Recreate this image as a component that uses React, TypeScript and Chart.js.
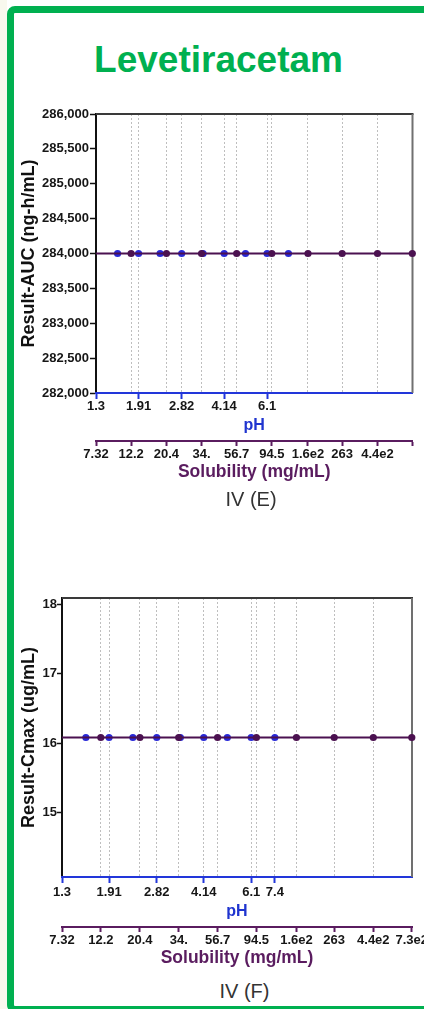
import React, { useEffect, useRef } from "react";
import { Chart, registerables } from "chart.js";

Chart.register(...registerables);

const FONT = "'Liberation Sans', Arial, Helvetica, sans-serif";

// ---------------- data ----------------
const drugName = "Levetiracetam";

const phPoints = [1.58, 1.91, 2.32, 2.82, 3.42, 4.14, 5.02, 6.1, 7.4];
const solubilityPoints = [7.32, 12.2, 20.4, 34, 56.7, 94.5, 160, 263, 440, 730];

const aucAtPh = [284000, 284000, 284000, 284000, 284000, 284000, 284000, 284000, 284000];
const aucAtSolubility = [284000, 284000, 284000, 284000, 284000, 284000, 284000, 284000, 284000, 284000];
const cmaxAtPh = [16.08, 16.08, 16.08, 16.08, 16.08, 16.08, 16.08, 16.08, 16.08];
const cmaxAtSolubility = [16.08, 16.08, 16.08, 16.08, 16.08, 16.08, 16.08, 16.08, 16.08, 16.08];

const phTicksE = [1.3, 1.91, 2.82, 4.14, 6.1];
const phTickLabelsE = ["1.3", "1.91", "2.82", "4.14", "6.1"];
const phTicksF = [1.3, 1.91, 2.82, 4.14, 6.1, 7.4];
const phTickLabelsF = ["1.3", "1.91", "2.82", "4.14", "6.1", "7.4"];
const solTicks = [7.32, 12.2, 20.4, 34, 56.7, 94.5, 160, 263, 440, 730];
const solTickLabelsE = ["7.32", "12.2", "20.4", "34.", "56.7", "94.5", "1.6e2", "263", "4.4e2", ""];
const solTickLabelsF = ["7.32", "12.2", "20.4", "34.", "56.7", "94.5", "1.6e2", "263", "4.4e2", "7.3e2"];
const aucTicks = [282000, 282500, 283000, 283500, 284000, 284500, 285000, 285500, 286000];
const aucTickLabels = ["282,000", "282,500", "283,000", "283,500", "284,000", "284,500", "285,000", "285,500", "286,000"];
const cmaxTicks = [15, 16, 17, 18];
const cmaxTickLabels = ["15", "16", "17", "18"];

const phRange = [1.3, 22.7];
const solRange = [7.32, 732];
const aucRange = [282000, 286000];
const cmaxRange = [14.07, 18.09];

const phTitle = "pH";
const solTitle = "Solubility (mg/mL)";
const aucTitle = "Result-AUC (ng-h/mL)";
const cmaxTitle = "Result-Cmax (ug/mL)";
const captionE = "IV (E)";
const captionF = "IV (F)";

// ---------------- styles ----------------
const GREEN = "#00B050";
const BLUE_AXIS = "#2236DA";
const BLUE_POINT = "#2828D8";
const PURPLE = "#4B1150";
const PURPLE_AXIS = "#5A1C5F";
const GRID = "#BEBEBE";
const TEXT = "#161616";

const frameLines = {
  id: "frameLines",
  beforeDatasetsDraw(chart: any) {
    const { ctx, chartArea } = chart;
    const { left, right, top, bottom } = chartArea;
    ctx.save();
    ctx.lineWidth = 2;
    ctx.strokeStyle = "#3a3a3a";
    ctx.beginPath();
    ctx.moveTo(left, top);
    ctx.lineTo(right + 1, top);
    ctx.stroke();
    ctx.strokeStyle = "#707070";
    ctx.beginPath();
    ctx.moveTo(right, top);
    ctx.lineTo(right, bottom);
    ctx.stroke();
    ctx.restore();
  },
};

type Spec = {
  top: number;
  width: number;
  height: number;
  padTop: number;
  padRight: number;
  padBottom: number;
  yWidth: number;
  yTickLen: number;
  yTickPad: number;
  phHeight: number;
  phTickPad: number;
  solHeight: number;
  solTickPad: number;
  yTitle: string;
  yTicks: number[];
  yTickLabels: string[];
  yRange: number[];
  phTicks: number[];
  phTickLabels: string[];
  solTickLabels: string[];
  yAtPh: number[];
  yAtSol: number[];
};

function DualAxisChart({ spec }: { spec: Spec }) {
  const ref = useRef<HTMLCanvasElement | null>(null);
  useEffect(() => {
    if (!ref.current) return;
    const tickFont = { family: FONT, size: 13, weight: "bold" as const };
    const chart = new Chart(ref.current, {
      type: "line",
      data: {
        datasets: [
          {
            label: "Solubility",
            data: solubilityPoints.map((x, i) => ({ x, y: spec.yAtSol[i] })),
            xAxisID: "sol",
            yAxisID: "y",
            borderColor: PURPLE,
            backgroundColor: PURPLE,
            borderWidth: 2,
            pointRadius: (c: any) => (c.dataIndex === 0 ? 0 : 3.6),
            pointBorderWidth: 0,
            order: 0,
            clip: false as any,
          },
          {
            label: "pH",
            data: phPoints.map((x, i) => ({ x, y: spec.yAtPh[i] })),
            xAxisID: "ph",
            yAxisID: "y",
            showLine: false,
            borderColor: BLUE_POINT,
            backgroundColor: BLUE_POINT,
            pointRadius: 3.6,
            pointBorderWidth: 0,
            order: 1,
            clip: false as any,
          },
        ],
      },
      options: {
        animation: false,
        responsive: false,
        maintainAspectRatio: false,
        devicePixelRatio: 1,
        layout: {
          padding: { top: spec.padTop, right: spec.padRight, bottom: spec.padBottom, left: 0 },
        },
        plugins: {
          legend: { display: false },
          tooltip: { enabled: false },
          title: { display: false },
        },
        scales: {
          y: {
            type: "linear",
            position: "left",
            min: spec.yRange[0],
            max: spec.yRange[1],
            bounds: "data",
            afterBuildTicks: (s: any) => {
              s.ticks = spec.yTicks.map((v) => ({ value: v }));
            },
            afterFit: (s: any) => {
              s.width = spec.yWidth;
            },
            ticks: {
              font: tickFont,
              color: TEXT,
              padding: spec.yTickPad,
              callback: (_v: any, i: number) => spec.yTickLabels[i],
            },
            grid: {
              drawOnChartArea: false,
              drawTicks: true,
              tickLength: spec.yTickLen,
              tickColor: "#111",
              tickWidth: 1.5,
              color: "#111",
            },
            border: { display: true, color: "#111", width: 2 },
            title: {
              display: true,
              text: spec.yTitle,
              color: "#111",
              font: { family: FONT, size: 18, weight: "bold" },
              padding: { top: 18.7, bottom: 0 },
            },
          },
          ph: {
            type: "logarithmic",
            axis: "x",
            position: "bottom",
            weight: 0,
            min: phRange[0],
            max: phRange[1],
            bounds: "data",
            afterBuildTicks: (s: any) => {
              s.ticks = spec.phTicks.map((v) => ({ value: v }));
            },
            afterFit: (s: any) => {
              s.height = spec.phHeight;
            },
            ticks: {
              font: tickFont,
              color: TEXT,
              padding: spec.phTickPad,
              autoSkip: false,
              maxRotation: 0,
              minRotation: 0,
              major: { enabled: false },
              callback: (_v: any, i: number) => spec.phTickLabels[i],
            },
            grid: {
              drawOnChartArea: true,
              drawTicks: true,
              tickLength: 6,
              color: GRID,
              lineWidth: 1,
              tickColor: BLUE_AXIS,
              tickWidth: 2,
            },
            border: { display: true, color: BLUE_AXIS, width: 2, dash: [2, 2] },
            title: {
              display: true,
              text: phTitle,
              color: "#1F34CF",
              font: { family: FONT, size: 16, weight: "bold" },
              padding: { top: 0, bottom: 6 },
            },
          },
          sol: {
            type: "logarithmic",
            axis: "x",
            position: "bottom",
            weight: 1,
            min: solRange[0],
            max: solRange[1],
            bounds: "data",
            afterBuildTicks: (s: any) => {
              s.ticks = solTicks.map((v) => ({ value: v }));
            },
            afterFit: (s: any) => {
              s.height = spec.solHeight;
            },
            ticks: {
              font: tickFont,
              color: TEXT,
              padding: spec.solTickPad,
              autoSkip: false,
              maxRotation: 0,
              minRotation: 0,
              major: { enabled: false },
              callback: (_v: any, i: number) => spec.solTickLabels[i],
            },
            grid: {
              drawOnChartArea: true,
              drawTicks: true,
              tickLength: 5,
              color: GRID,
              lineWidth: 1,
              tickColor: PURPLE_AXIS,
              tickWidth: 2,
            },
            border: { display: true, color: PURPLE_AXIS, width: 2, dash: [2, 2] },
            title: {
              display: true,
              text: solTitle,
              color: PURPLE_AXIS,
              font: { family: FONT, size: 17.5, weight: "bold" },
              padding: { top: 0, bottom: 0 },
            },
          },
        },
      } as any,
      plugins: [frameLines],
    });
    return () => chart.destroy();
  }, [spec]);
  return (
    <canvas
      ref={ref}
      width={spec.width}
      height={spec.height}
      style={{ position: "absolute", left: 0, top: spec.top, width: spec.width, height: spec.height }}
    />
  );
}

const specE: Spec = {
  top: 100,
  width: 440,
  height: 390,
  padTop: 14,
  padRight: 27.5,
  padBottom: 7,
  yWidth: 96,
  yTickLen: 6,
  yTickPad: 1,
  phHeight: 48,
  phTickPad: 0,
  solHeight: 42,
  solTickPad: 1,
  yTitle: aucTitle,
  yTicks: aucTicks,
  yTickLabels: aucTickLabels,
  yRange: aucRange,
  phTicks: phTicksE,
  phTickLabels: phTickLabelsE,
  solTickLabels: solTickLabelsE,
  yAtPh: aucAtPh,
  yAtSol: aucAtSolubility,
};

const specF: Spec = {
  top: 580,
  width: 440,
  height: 396,
  padTop: 18,
  padRight: 28,
  padBottom: 7,
  yWidth: 62,
  yTickLen: 5,
  yTickPad: 0,
  phHeight: 50,
  phTickPad: 1.5,
  solHeight: 42,
  solTickPad: 1,
  yTitle: cmaxTitle,
  yTicks: cmaxTicks,
  yTickLabels: cmaxTickLabels,
  yRange: cmaxRange,
  phTicks: phTicksF,
  phTickLabels: phTickLabelsF,
  solTickLabels: solTickLabelsF,
  yAtPh: cmaxAtPh,
  yAtSol: cmaxAtSolubility,
};

function CenteredText(props: { text: string; cx: number; top: number; size: number; color: string; bold?: boolean }) {
  return (
    <div
      style={{
        position: "absolute",
        left: props.cx - 200,
        top: props.top,
        width: 400,
        textAlign: "center",
        fontFamily: FONT,
        fontSize: props.size,
        lineHeight: `${props.size}px`,
        fontWeight: props.bold ? "bold" : "normal",
        color: props.color,
        whiteSpace: "nowrap",
      }}
    >
      {props.text}
    </div>
  );
}

export default function App() {
  return (
    <div
      style={{
        position: "absolute",
        left: 0,
        top: 0,
        width: 424,
        height: 1009,
        overflow: "hidden",
        background: "#ffffff",
      }}
    >
      <div style={{ position: "absolute", left: 0, top: 0, width: 7, height: 1009, background: "#F8F8EE" }} />
      <div
        style={{
          position: "absolute",
          left: 7,
          top: 6,
          width: 470,
          height: 1007,
          border: `7px solid ${GREEN}`,
          borderRadius: 8,
          boxSizing: "border-box",
        }}
      />
      <CenteredText text={drugName} cx={218.5} top={41.4} size={37} color={GREEN} bold />
      <DualAxisChart spec={specE} />
      <CenteredText text={captionE} cx={251} top={489} size={20} color="#333333" />
      <DualAxisChart spec={specF} />
      <CenteredText text={captionF} cx={244.5} top={980.5} size={20} color="#333333" />
    </div>
  );
}
